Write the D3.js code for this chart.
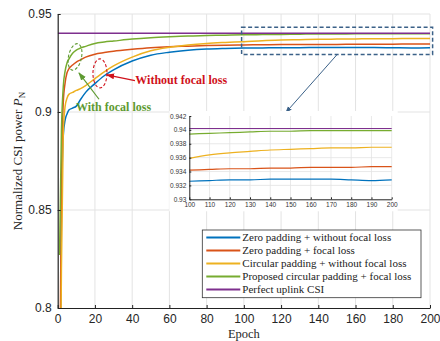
<!DOCTYPE html>
<html>
<head>
<meta charset="utf-8">
<script src="https://cdn.jsdelivr.net/npm/d3@7"></script>
<style>
  body { margin: 0; background: #fff; }
  svg { display: block; }
</style>
</head>
<body>
<div id="chart"></div>
<script>
// epochs sampled from the figure
const epochs = [1,2,3,4,5,6,8,10,12,15,20,25,30,40,50,60,70,80,90,100,110,120,130,140,150,160,170,180,190,200];

const zeroNoFocal = [0.70,0.85,0.888,0.896,0.899,0.901,0.902,0.903,0.906,0.910,0.9145,0.9185,0.9215,0.926,0.929,0.9305,0.9315,0.9321,0.9324,0.9326,0.9327,0.9328,0.9328,0.9329,0.9329,0.9329,0.9329,0.9328,0.9327,0.9328];
const zeroFocal = [0.75,0.86,0.905,0.915,0.92,0.922,0.924,0.9255,0.9265,0.928,0.9295,0.9303,0.931,0.932,0.9328,0.9333,0.9336,0.9339,0.9341,0.9342,0.9343,0.9344,0.9344,0.9345,0.9345,0.9346,0.9346,0.9346,0.9347,0.9347];
const circNoFocal = [0.70,0.82,0.89,0.903,0.907,0.909,0.910,0.911,0.9118,0.9135,0.917,0.9205,0.9235,0.928,0.9312,0.933,0.9342,0.935,0.9355,0.9359,0.9364,0.9367,0.9369,0.9371,0.9372,0.9373,0.9374,0.9374,0.9375,0.9375];
const circFocal = [0.827,0.89,0.913,0.921,0.925,0.927,0.930,0.9316,0.9325,0.9335,0.935,0.9357,0.9362,0.9372,0.9379,0.9384,0.9388,0.939,0.9392,0.9394,0.9395,0.9396,0.9397,0.9398,0.9398,0.9399,0.9399,0.9399,0.9399,0.9399];
const perfectCSI = 0.9402;

const seriesNames = [
  "Zero padding + without focal loss",
  "Zero padding + focal loss",
  "Circular padding + without focal loss",
  "Proposed circular padding + focal loss",
  "Perfect uplink CSI"
];
const colors = ["#0072BD", "#D95319", "#EDB120", "#77AC30", "#7E2F8E"];

const xTicks = [0,20,40,60,80,100,120,140,160,180,200];
const yTicks = [0.8,0.85,0.9,0.95];
const insetXTicks = [100,110,120,130,140,150,160,170,180,190,200];
const insetYTicks = [0.93,0.932,0.934,0.936,0.938,0.94,0.942];

const W = 440, H = 341;
const svg = d3.select("#chart").append("svg").attr("width", W).attr("height", H);

let series = [zeroNoFocal, zeroFocal, circNoFocal, circFocal].map((vals, i) => ({
  color: colors[i],
  points: epochs.map((e, j) => ({e: e, v: vals[j]}))
}));

// main axes
let x = d3.scaleLinear().domain([0, 200]).range([57.7, 430]);
let y = d3.scaleLinear().domain([0.8, 0.95]).range([308, 14]);

svg.append("defs").append("clipPath").attr("id", "clipMain")
  .append("rect").attr("x", x(0)).attr("y", y(0.95)).attr("width", x(200) - x(0)).attr("height", y(0.8) - y(0.95));

// grid
let grid = svg.append("g").attr("stroke", "#e3e3e3").attr("stroke-width", 1);
grid.selectAll(".gx").data(xTicks.slice(1)).join("line")
  .attr("x1", d => x(d)).attr("x2", d => x(d)).attr("y1", y(0.8)).attr("y2", y(0.95));
grid.selectAll(".gy").data(yTicks.slice(1)).join("line")
  .attr("x1", x(0)).attr("x2", x(200)).attr("y1", d => y(d)).attr("y2", d => y(d));

let line = d3.line().x(d => x(d.e)).y(d => y(d.v)).curve(d3.curveMonotoneX);
let plot = svg.append("g").attr("clip-path", "url(#clipMain)");
series.forEach(s => {
  plot.append("path").datum(s.points)
    .attr("fill", "none").attr("stroke", s.color).attr("stroke-width", 1.5)
    .attr("d", line);
});
plot.append("line")
  .attr("x1", x(0)).attr("x2", x(200)).attr("y1", y(perfectCSI)).attr("y2", y(perfectCSI))
  .attr("stroke", colors[4]).attr("stroke-width", 1.5);

// axes (ticks inward, like matlab)
let xAxis = svg.append("g").attr("transform", "translate(0," + y(0.8) + ")")
  .call(d3.axisBottom(x).tickValues(xTicks).tickSizeInner(-3).tickSizeOuter(0).tickPadding(6.5).tickFormat(d3.format("d")));
let yAxis = svg.append("g").attr("transform", "translate(" + x(0) + ",0)")
  .call(d3.axisLeft(y).tickValues(yTicks).tickSizeInner(-3).tickSizeOuter(0).tickPadding(6).tickFormat(d => d3.format("")(d)));
[xAxis, yAxis].forEach(a => {
  a.select(".domain").attr("stroke", "#222").attr("stroke-width", 1.2);
  a.selectAll(".tick line").attr("stroke", "#222");
  a.selectAll("text").attr("font-family", "Liberation Sans, Arial, sans-serif").attr("font-size", 12).attr("fill", "#262626");
});

svg.append("text").attr("x", (x(0) + x(200)) / 2).attr("y", 337.5)
  .attr("text-anchor", "middle").attr("font-family", "Liberation Serif, serif").attr("font-size", 12.5).attr("fill", "#262626")
  .text("Epoch");
let yl = svg.append("text").attr("transform", "translate(22," + ((y(0.8) + y(0.95)) / 2) + ") rotate(-90)")
  .attr("text-anchor", "middle").attr("font-family", "Liberation Serif, serif").attr("font-size", 13).attr("fill", "#262626");
yl.append("tspan").text("Normalized CSI power ");
yl.append("tspan").attr("font-style", "italic").text("P");
yl.append("tspan").attr("font-size", 9).attr("dy", 3).text("N");

// zoom box and arrow
const boxColor = "#3b6188";
svg.append("rect")
  .attr("x", x(98.8)).attr("y", y(0.9432)).attr("width", x(201.4) - x(98.8)).attr("height", y(0.9294) - y(0.9432))
  .attr("fill", "none").attr("stroke", boxColor).attr("stroke-width", 1.5).attr("stroke-dasharray", "4,2.5");

let defs = svg.select("defs");
function marker(id, color) {
  defs.append("marker").attr("id", id).attr("viewBox", "0 0 10 10").attr("refX", 9).attr("refY", 5)
    .attr("markerWidth", 7).attr("markerHeight", 7).attr("orient", "auto-start-reverse")
    .append("path").attr("d", "M0,1.5 L10,5 L0,8.5 Z").attr("fill", color);
}
marker("arrBlue", boxColor);
marker("arrGreen", "#5e9a32");
marker("arrRed", "#d0111b");

svg.append("line").attr("x1", 336.7).attr("y1", 55).attr("x2", 285.7).attr("y2", 112.7)
  .attr("stroke", boxColor).attr("stroke-width", 1).attr("marker-end", "url(#arrBlue)");

// annotations
svg.append("ellipse").attr("cx", x(9.3)).attr("cy", y(0.9281)).attr("rx", 6.5).attr("ry", 13.5)
  .attr("transform", "rotate(12," + x(9.3) + "," + y(0.9281) + ")")
  .attr("fill", "none").attr("stroke", "#5e9a32").attr("stroke-width", 1.1).attr("stroke-dasharray", "3,2");
svg.append("ellipse").attr("cx", x(22.7)).attr("cy", y(0.9197)).attr("rx", 7).attr("ry", 14.5)
  .attr("fill", "none").attr("stroke", "#d0111b").attr("stroke-width", 1.1).attr("stroke-dasharray", "3,2");
svg.append("line").attr("x1", x(22.2)).attr("y1", y(0.9065)).attr("x2", x(11.4)).attr("y2", y(0.92))
  .attr("stroke", "#5e9a32").attr("stroke-width", 1.2).attr("marker-end", "url(#arrGreen)");
svg.append("line").attr("x1", x(41.5)).attr("y1", y(0.916)).attr("x2", x(26.3)).attr("y2", y(0.9189))
  .attr("stroke", "#d0111b").attr("stroke-width", 1.2).attr("marker-end", "url(#arrRed)");
svg.append("text").attr("x", x(9.8)).attr("y", y(0.9005))
  .attr("font-family", "Liberation Serif, serif").attr("font-weight", "bold").attr("font-size", 12).attr("fill", "#5e9a32")
  .text("With focal loss");
svg.append("text").attr("x", x(41.7)).attr("y", y(0.9143))
  .attr("font-family", "Liberation Serif, serif").attr("font-weight", "bold").attr("font-size", 12).attr("fill", "#d0111b")
  .text("Without focal loss");

// inset
let ix = d3.scaleLinear().domain([100, 200]).range([189.3, 391.7]);
let iy = d3.scaleLinear().domain([0.93, 0.942]).range([199.3, 116]);
let inset = svg.append("g");
inset.append("rect").attr("x", ix(100) - 20).attr("y", iy(0.942) - 5).attr("width", ix(200) - ix(100) + 26).attr("height", iy(0.93) - iy(0.942) + 17)
  .attr("fill", "#fff");
let ig = inset.append("g").attr("stroke", "#e3e3e3").attr("stroke-width", 0.8);
ig.selectAll(".ix").data(insetXTicks.slice(1)).join("line")
  .attr("x1", d => ix(d)).attr("x2", d => ix(d)).attr("y1", iy(0.93)).attr("y2", iy(0.942));
ig.selectAll(".iy").data(insetYTicks.slice(1, -1)).join("line")
  .attr("x1", ix(100)).attr("x2", ix(200)).attr("y1", d => iy(d)).attr("y2", d => iy(d));
let iline = d3.line().x(d => ix(d.e)).y(d => iy(d.v)).curve(d3.curveMonotoneX);
series.forEach(s => {
  inset.append("path").datum(s.points.filter(p => p.e >= 100))
    .attr("fill", "none").attr("stroke", s.color).attr("stroke-width", 1.2)
    .attr("d", iline);
});
inset.append("line").attr("x1", ix(100)).attr("x2", ix(200)).attr("y1", iy(perfectCSI)).attr("y2", iy(perfectCSI))
  .attr("stroke", colors[4]).attr("stroke-width", 1.2);
let ixa = inset.append("g").attr("transform", "translate(0," + iy(0.93) + ")")
  .call(d3.axisBottom(ix).tickValues(insetXTicks).tickSizeInner(-2).tickSizeOuter(0).tickPadding(3));
let iya = inset.append("g").attr("transform", "translate(" + ix(100) + ",0)")
  .call(d3.axisLeft(iy).tickValues(insetYTicks).tickSizeInner(-2).tickSizeOuter(0).tickPadding(3).tickFormat(d => String(+d.toFixed(3))));
[ixa, iya].forEach(a => {
  a.select(".domain").attr("stroke", "#222").attr("stroke-width", 1);
  a.selectAll(".tick line").attr("stroke", "#222");
  a.selectAll("text").attr("font-family", "Liberation Sans, Arial, sans-serif").attr("font-size", 6.5).attr("fill", "#333");
});

// legend
let lg = svg.append("g").attr("transform", "translate(202.3,230)");
lg.append("rect").attr("width", 218.7).attr("height", 67.7).attr("fill", "#fff").attr("stroke", "#333").attr("stroke-width", 0.8);
seriesNames.forEach((name, i) => {
  let yy = 7.5 + i * 13;
  lg.append("line").attr("x1", 4).attr("x2", 38).attr("y1", yy).attr("y2", yy)
    .attr("stroke", colors[i]).attr("stroke-width", 2);
  lg.append("text").attr("x", 40).attr("y", yy + 3.5)
    .attr("font-family", "Liberation Serif, serif").attr("font-size", 11).attr("fill", "#222")
    .text(name);
});
</script>
</body>
</html>
